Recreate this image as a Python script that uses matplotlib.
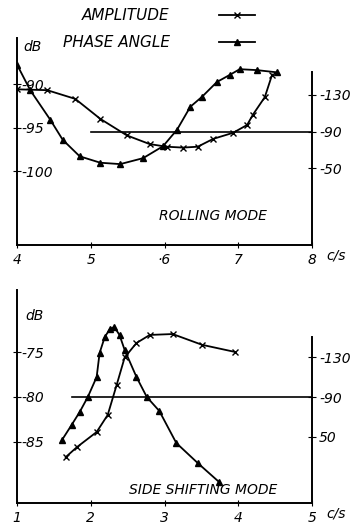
import matplotlib
matplotlib.use("Agg")
from matplotlib import pyplot as plt

# rolling mode (top)
roll_amp_f = [4.0, 4.41, 4.79, 5.13, 5.49, 5.80, 6.03, 6.25, 6.45, 6.66, 6.93, 7.12, 7.20, 7.36, 7.46]
roll_amp_db = [-90.6, -90.7, -91.7, -94.0, -95.9, -96.9, -97.2, -97.3, -97.2, -96.3, -95.6, -94.7, -93.5, -91.5, -88.9]
roll_ph_f = [4.0, 4.18, 4.45, 4.62, 4.85, 5.13, 5.40, 5.71, 5.98, 6.17, 6.35, 6.51, 6.71, 6.89, 7.02, 7.25, 7.53]
roll_ph_deg = [163, 135, 103, 81, 63, 56, 54.5, 61, 74, 92, 117, 128, 144, 152, 158, 157, 154.5]

# side shifting mode (bottom)
side_amp_f = [1.66, 1.81, 2.08, 2.23, 2.35, 2.46, 2.62, 2.80, 3.11, 3.51, 3.96]
side_amp_db = [-86.7, -85.6, -83.9, -82.0, -78.7, -75.6, -74.0, -73.1, -73.0, -74.2, -75.0]
side_ph_f = [1.61, 1.74, 1.85, 1.96, 2.08, 2.12, 2.19, 2.26, 2.32, 2.39, 2.46, 2.62, 2.76, 2.93, 3.16, 3.45, 3.74]
side_ph_deg = [47, 62, 75, 90, 110, 134, 150, 158, 160, 152, 137, 110, 90, 76, 44, 24, 5]

top_xticks = [4, 5, 6, 7, 8]
top_xlabels = ["4", "5", "·6", "7", "8"]
bot_xticks = [1, 2, 3, 4, 5]
bot_xlabels = ["1", "2", "3", "4", "5"]

hand = dict(style="italic", family="DejaVu Sans")

fig = plt.figure(figsize=(3.5, 5.25), dpi=100)


def panel(rect, xlim, ylim_db, ylim_deg, rspine_top, xticks, xlabels,
          dbticks, degticks, deglabels, hline_from):
    ax = fig.add_axes(rect)
    ax2 = ax.twinx()
    ax.set_xlim(*xlim)
    ax.set_ylim(*ylim_db)
    ax2.set_ylim(*ylim_deg)
    for a in (ax, ax2):
        a.spines["top"].set_visible(False)
        a.patch.set_visible(False)
    ax.spines["right"].set_visible(False)
    ax2.spines["left"].set_visible(False)
    ax2.spines["bottom"].set_visible(False)
    ax2.spines["right"].set_bounds(ylim_deg[0], rspine_top)
    for s in ("left", "bottom"):
        ax.spines[s].set_linewidth(1.4)
    ax2.spines["right"].set_linewidth(1.4)

    ax.set_xticks(xticks)
    ax.set_xticklabels(xlabels, fontsize=10, **hand)
    ax.set_yticks(dbticks)
    ax.set_yticklabels([str(t) for t in dbticks], fontsize=10, ha="left", **hand)
    ax.tick_params(axis="y", direction="inout", length=6, pad=-6)
    ax.tick_params(axis="x", direction="inout", length=5, pad=3)
    ax2.set_yticks(degticks)
    ax2.set_yticklabels(deglabels, fontsize=10, **hand)
    ax2.tick_params(axis="y", direction="inout", length=6, pad=2)

    ax2.plot([hline_from, xlim[1]], [90, 90], color="black", lw=1.2)
    ax.text(1.05, -0.07, "c/s", transform=ax.transAxes, fontsize=10, **hand)
    return ax, ax2


ax1, ax1r = panel([17 / 350, 1 - 245 / 525, 295 / 350, 207 / 525], (4, 8),
                  (-108.5, -84.7), (-33.7, 192), 154.5, top_xticks, top_xlabels,
                  [-90, -95, -100], [130, 90, 50], ["-130", "-90", "-50"], 5.0)
amp1, = ax1.plot(roll_amp_f, roll_amp_db, color="black", lw=1.3, marker="x",
                 ms=4, mew=1, label="AMPLITUDE")
ph1, = ax1r.plot(roll_ph_f, roll_ph_deg, color="black", lw=1.3, marker="^",
                 ms=4, label="PHASE ANGLE")
ax1.text(0.48, 0.12, "ROLLING MODE", transform=ax1.transAxes, fontsize=10, **hand)

ax2, ax2r = panel([17 / 350, 1 - 503 / 525, 295 / 350, 213 / 525], (1, 5),
                  (-91.8, -68.1), (-16, 197), 150, bot_xticks, bot_xlabels,
                  [-75, -80, -85], [130, 90, 50], ["-130", "-90", "50"], 1.74)
ax2.plot(side_amp_f, side_amp_db, color="black", lw=1.3, marker="x", ms=4, mew=1)
ax2r.plot(side_ph_f, side_ph_deg, color="black", lw=1.3, marker="^", ms=4)
ax2.text(0.38, 0.04, "SIDE SHIFTING MODE", transform=ax2.transAxes, fontsize=10, **hand)

ax1.text(0.02, 0.935, "dB", transform=ax1.transAxes, fontsize=10, **hand)
ax2.text(0.03, 0.86, "dB", transform=ax2.transAxes, fontsize=10, **hand)

fig.legend(handles=[amp1, ph1], loc="upper left", bbox_to_anchor=(0.14, 1.01),
           markerfirst=False, frameon=False, handlelength=2.4, handletextpad=3.2,
           labelspacing=0.75, prop=dict(size=11, style="italic"))

fig.savefig("out.png", dpi=100)
